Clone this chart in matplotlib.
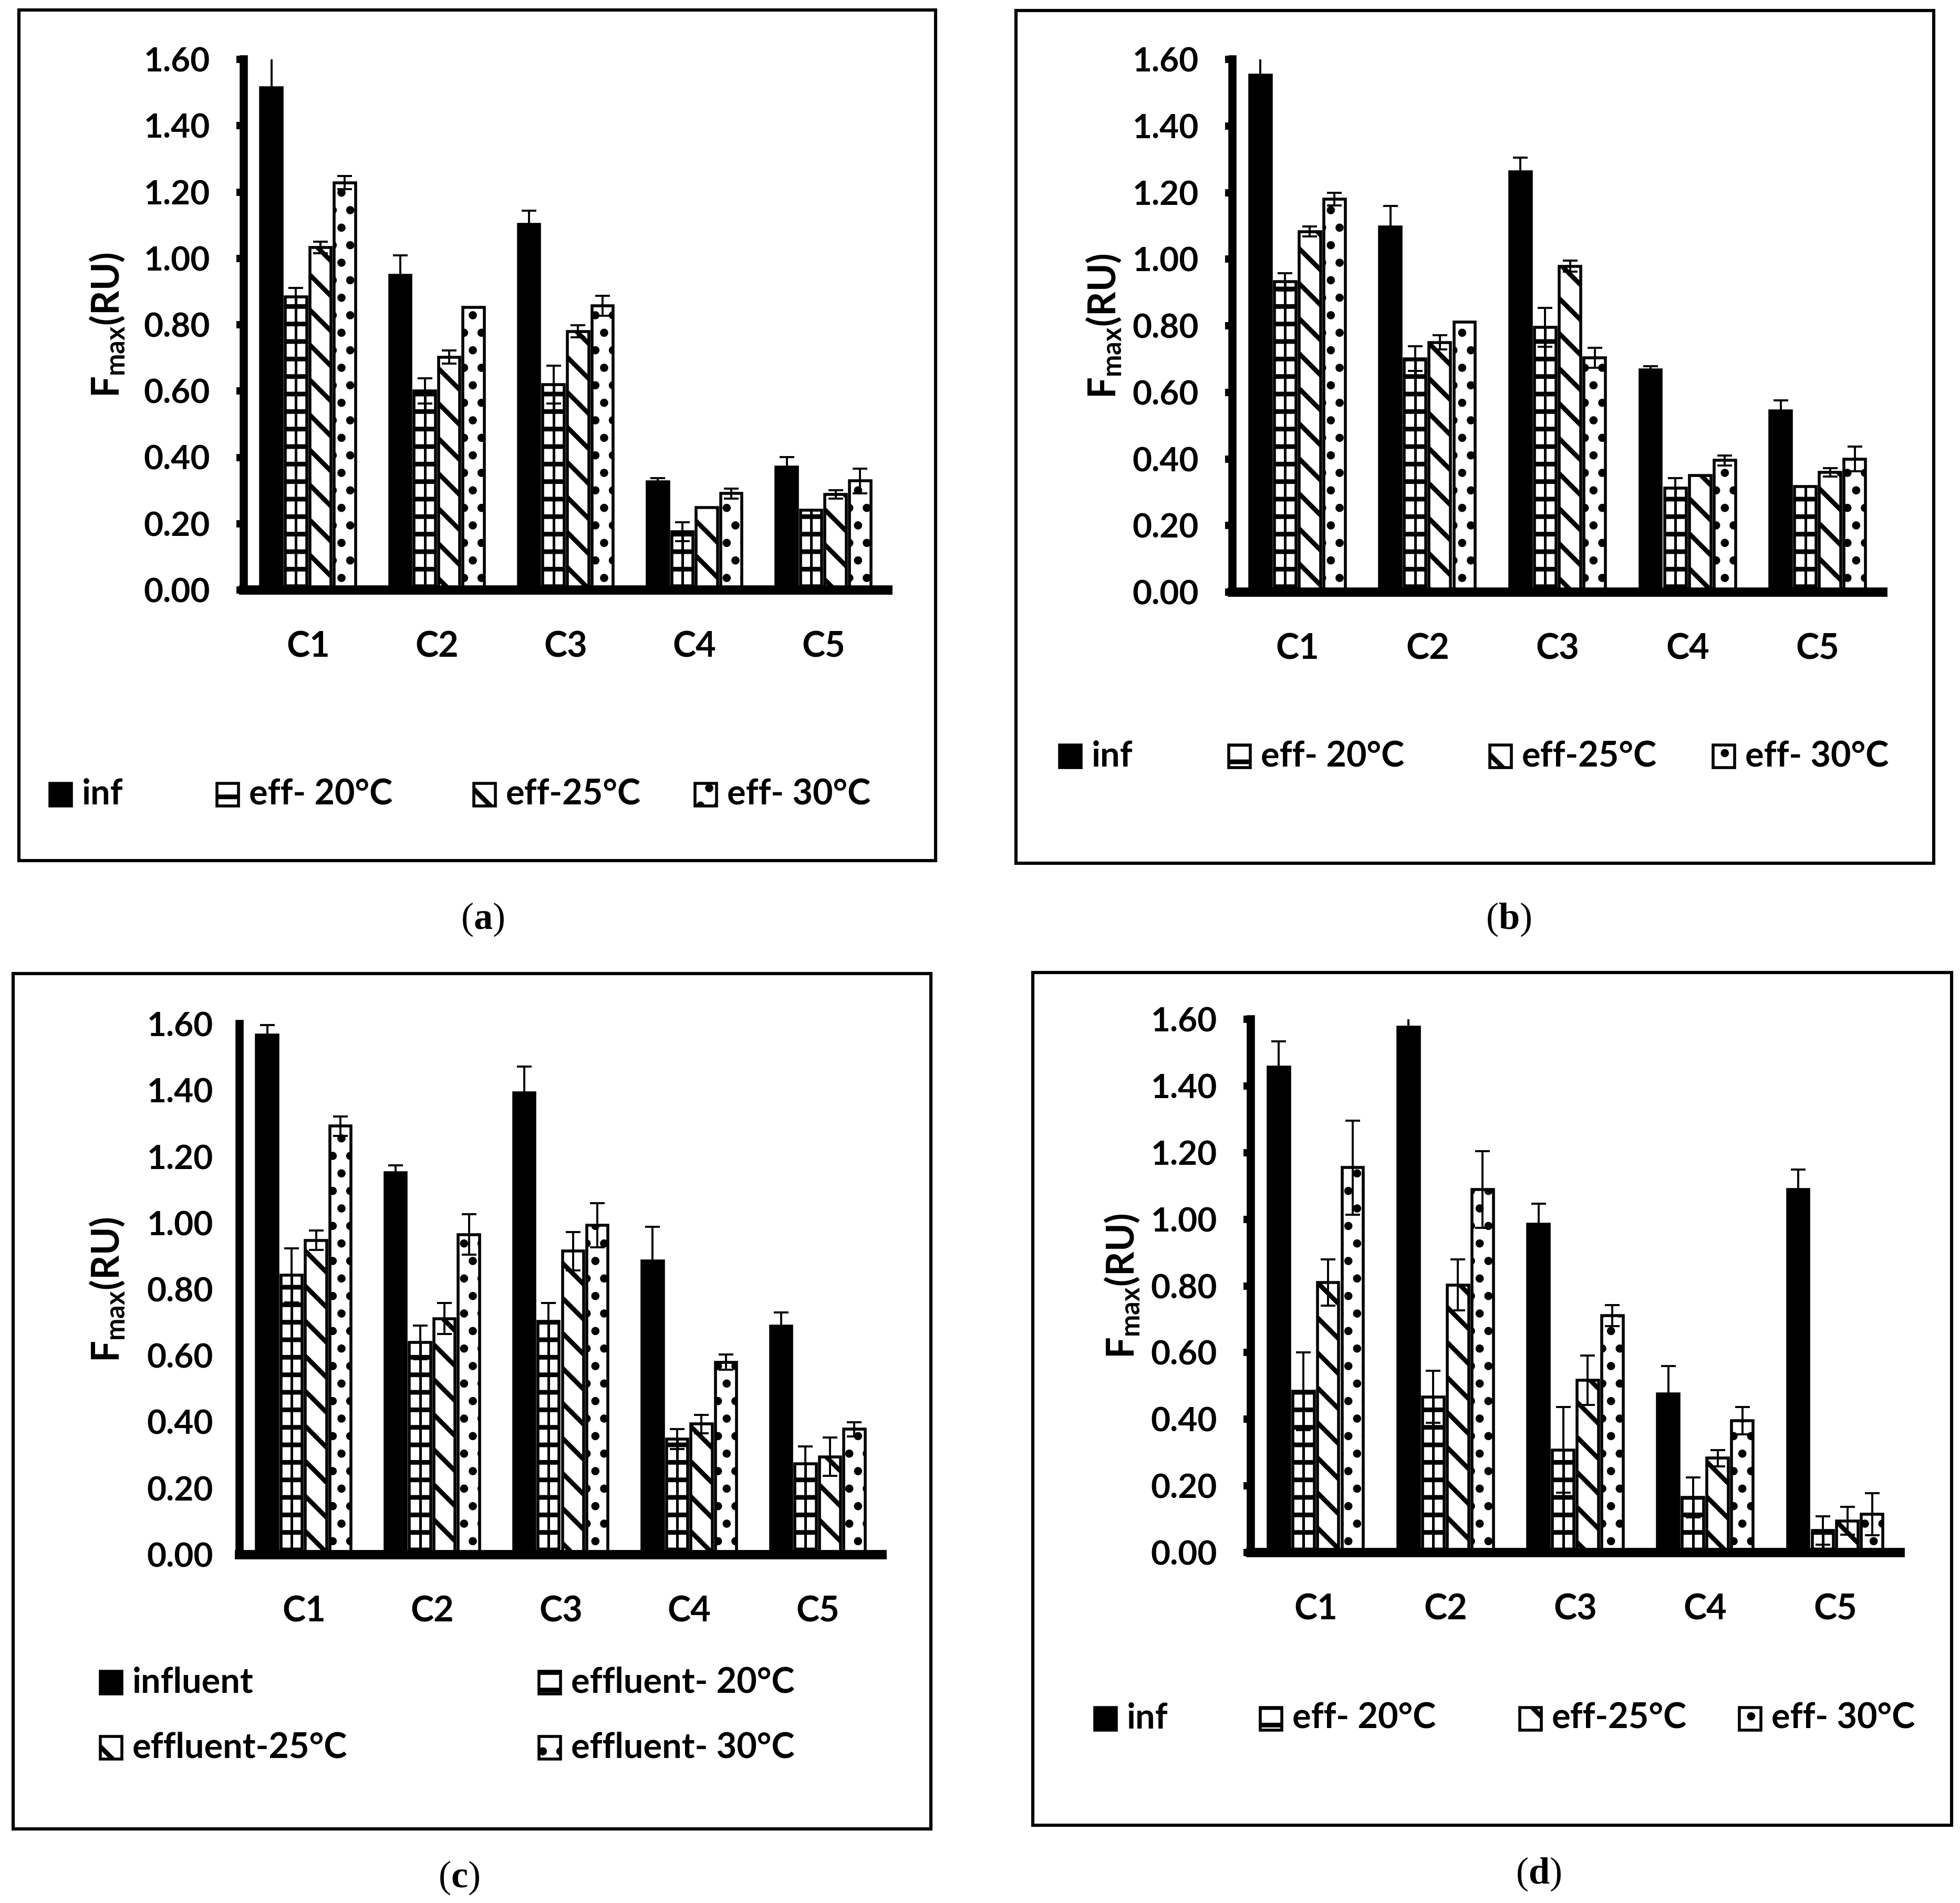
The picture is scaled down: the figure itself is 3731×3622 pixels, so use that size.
import numpy as np
import matplotlib
matplotlib.use('Agg')
import matplotlib.pyplot as plt
from matplotlib.patches import Rectangle

plt.rcParams['font.family'] = ['Lato', 'DejaVu Sans']
plt.rcParams['font.weight'] = 'bold'
plt.rcParams['hatch.linewidth'] = 1.6
plt.rcParams['hatch.color'] = 'black'
plt.rcParams['mathtext.fontset'] = 'custom'
plt.rcParams['mathtext.rm'] = 'Liberation Serif'
plt.rcParams['mathtext.bf'] = 'Liberation Serif:bold'

categories = ['C1', 'C2', 'C3', 'C4', 'C5']
yticks = [0.0, 0.2, 0.4, 0.6, 0.8, 1.0, 1.2, 1.4, 1.6]
ytick_labels = ['0.00', '0.20', '0.40', '0.60', '0.80', '1.00', '1.20', '1.40', '1.60']

labels_short = ['inf', 'eff- 20°C', 'eff-25°C', 'eff- 30°C']
labels_long = ['influent', 'effluent- 20°C', 'effluent-25°C', 'effluent- 30°C']

# rows: inf, eff 20, eff 25, eff 30
vals_a = [[1.515, 0.949, 1.102, 0.326, 0.371],
          [0.884, 0.600, 0.620, 0.176, 0.241],
          [1.033, 0.702, 0.780, 0.248, 0.288],
          [1.228, 0.852, 0.857, 0.291, 0.329]]
errs_a = [[0.100, 0.060, 0.042, 0.011, 0.030],
          [0.027, 0.038, 0.057, 0.029, 0.000],
          [0.018, 0.020, 0.018, 0.000, 0.013],
          [0.020, 0.000, 0.030, 0.015, 0.037]]

vals_b = [[1.552, 1.096, 1.263, 0.667, 0.545],
          [0.932, 0.701, 0.795, 0.312, 0.317],
          [1.083, 0.750, 0.979, 0.351, 0.360],
          [1.181, 0.811, 0.703, 0.396, 0.400]]
errs_b = [[0.060, 0.063, 0.042, 0.011, 0.031],
          [0.026, 0.037, 0.058, 0.031, 0.000],
          [0.015, 0.021, 0.017, 0.000, 0.013],
          [0.019, 0.000, 0.030, 0.015, 0.037]]

vals_c = [[1.567, 1.152, 1.393, 0.886, 0.689],
          [0.842, 0.640, 0.703, 0.349, 0.274],
          [0.948, 0.712, 0.915, 0.394, 0.295],
          [1.292, 0.965, 0.993, 0.580, 0.378]]
errs_c = [[0.030, 0.022, 0.079, 0.102, 0.042],
          [0.082, 0.051, 0.056, 0.030, 0.053],
          [0.029, 0.047, 0.058, 0.028, 0.058],
          [0.029, 0.061, 0.067, 0.023, 0.022]]

vals_d = [[1.456, 1.576, 0.985, 0.476, 1.089],
          [0.484, 0.467, 0.308, 0.166, 0.066],
          [0.810, 0.803, 0.517, 0.283, 0.095],
          [1.155, 1.089, 0.711, 0.396, 0.115]]
errs_d = [[0.078, 0.050, 0.061, 0.083, 0.060],
          [0.116, 0.078, 0.129, 0.060, 0.043],
          [0.069, 0.077, 0.074, 0.024, 0.042],
          [0.141, 0.115, 0.032, 0.041, 0.063]]

faces = ['black', 'white', 'white', 'white']
hatches = [None, '--', '\\\\', '..']

W, H = 3731, 3622
fig = plt.figure(figsize=(W / 400, H / 400), dpi=400)


def fx(px):
    return px / W


def fy(py):
    return 1 - py / H


def draw_panel(rect, vals, errs, label_x, yticks_on=True):
    ax = fig.add_axes(rect)
    x = np.arange(len(categories))
    width = 0.165
    step = 0.19
    for i in range(4):
        xs = x + (i - 1.5) * step
        ax.bar(xs, vals[i], width, color=faces[i], edgecolor='black',
               hatch=hatches[i], linewidth=1.0, zorder=2)
        if i == 1:
            ax.vlines(xs, 0, vals[i], colors='black', linewidth=0.9, zorder=2.2)
        ax.errorbar(xs, vals[i], yerr=errs[i], fmt='none', ecolor='black',
                    elinewidth=0.7, capsize=2.6, capthick=0.7, zorder=3)
    ax.set_xlim(-0.5, 4.5)
    ax.set_ylim(0, 1.6)
    ax.set_xticks(x)
    ax.set_xticklabels(categories)
    ax.set_yticks(yticks)
    ax.set_yticklabels(ytick_labels)
    for s in ['top', 'right']:
        ax.spines[s].set_visible(False)
    ax.spines['left'].set_linewidth(2.8)
    ax.spines['bottom'].set_linewidth(3.2)
    ax.tick_params(axis='x', length=0, pad=14, labelsize=12)
    ax.tick_params(axis='y', direction='out', length=2.5 if yticks_on else 0,
                   width=2.5, pad=9, labelsize=11.5)
    for t in ax.get_xticklabels() + ax.get_yticklabels():
        t.set_fontweight('bold')
    ax.set_ylabel(r'F$_{\mathregular{max}}$(RU)', fontsize=13, fontweight='bold')
    ax.yaxis.set_label_coords(label_x, 0.5)
    return ax


def draw_legend(items):
    w, h = 41, 43
    for (px, py), lab, fc, ht in items:
        r = Rectangle((fx(px), fy(py + h / 2)), fx(w), h / H,
                      transform=fig.transFigure, facecolor=fc,
                      edgecolor='black', hatch=ht, linewidth=1.0)
        fig.add_artist(r)
        fig.text(fx(px + w + 20), fy(py), lab, ha='left', va='center',
                 fontsize=12, fontweight='bold')


def draw_box(x0, y0, x1, y1):
    r = Rectangle((fx(x0), fy(y1)), fx(x1 - x0), (y1 - y0) / H,
                  transform=fig.transFigure, fill=False,
                  edgecolor='black', linewidth=1.1)
    fig.add_artist(r)


# panel frames
draw_box(36, 19, 1781, 1638)
draw_box(1934, 20, 3681, 1643)
draw_box(25, 1853, 1772, 3481)
draw_box(1966, 1851, 3715, 3474)

# axes (left, bottom, width, height) in figure fractions
draw_panel([fx(464), fy(1123), fx(1690 - 464), (1123 - 113) / H], vals_a, errs_a, -0.183)
draw_panel([fx(2346), fy(1127), fx(3584 - 2346), (1127 - 113) / H], vals_b, errs_b, -0.169)
draw_panel([fx(456), fy(2959), fx(1679 - 456), (2959 - 1949) / H], vals_c, errs_c, -0.177,
           yticks_on=False)
draw_panel([fx(2381), fy(2955), fx(3617 - 2381), (2955 - 1940) / H], vals_d, errs_d, -0.169)

# legends
draw_legend(zip([(95, 1512), (413, 1512), (902, 1512), (1323, 1512)],
                labels_short, faces, hatches))
draw_legend(zip([(2017, 1440), (2339, 1440), (2836, 1440), (3261, 1440)],
                labels_short, faces, hatches))
draw_legend(zip([(191, 3202), (1026, 3202), (191, 3326), (1026, 3326)],
                labels_long, faces, hatches))
draw_legend(zip([(2084, 3271), (2399, 3271), (2893, 3271), (3311, 3271)],
                labels_short, faces, hatches))

# captions
for px, py, letter in [(919, 1750, 'a'), (2872, 1750, 'b'),
                       (874, 3574, 'c'), (2929, 3567, 'd')]:
    fig.text(fx(px), fy(py), '($\\mathbf{' + letter + '}$)', ha='center', va='center',
             fontsize=13, family='Liberation Serif', fontweight='normal')

fig.savefig('out.png', dpi=400)
